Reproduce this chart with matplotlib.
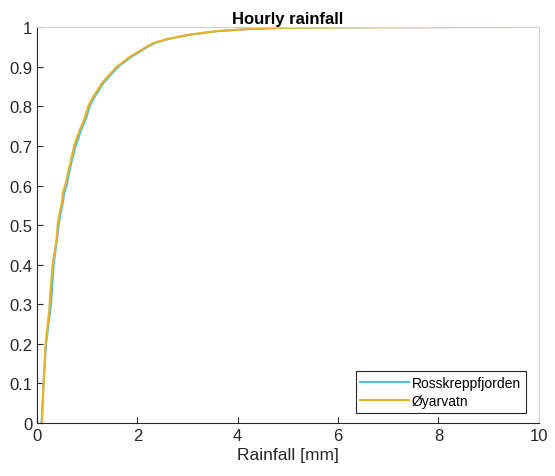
import matplotlib
matplotlib.use('Agg')
import matplotlib.pyplot as plt

plt.rcParams['font.family'] = ['Liberation Sans', 'DejaVu Sans']

ross_x = [0.09, 0.13, 0.18, 0.25, 0.28, 0.33, 0.40, 0.43, 0.47, 0.52, 0.54, 0.59, 0.67, 0.77,
          0.88, 0.98, 1.05, 1.13, 1.33, 1.62, 1.88, 2.20, 2.35, 2.62, 3.00, 3.60, 4.20,
          4.80, 5.50, 6.60]
ross_y = [0.0, 0.10, 0.20, 0.27, 0.30, 0.40, 0.465, 0.50, 0.53, 0.56, 0.58, 0.60, 0.65, 0.70,
          0.74, 0.77, 0.80, 0.82, 0.86, 0.90, 0.925, 0.95, 0.96, 0.97, 0.98, 0.99, 0.995,
          0.998, 0.999, 1.0]

oya_x = [0.10, 0.13, 0.17, 0.24, 0.26, 0.31, 0.39, 0.41, 0.45, 0.50, 0.51, 0.56, 0.65, 0.74,
         0.85, 0.95, 1.02, 1.10, 1.30, 1.59, 1.85, 2.18, 2.32, 2.60, 2.98, 3.58, 4.20,
         4.80, 5.50, 6.60, 7.50, 9.40]
oya_y = [0.0, 0.10, 0.20, 0.28, 0.32, 0.40, 0.465, 0.50, 0.53, 0.56, 0.58, 0.60, 0.65, 0.70,
         0.74, 0.77, 0.80, 0.82, 0.86, 0.90, 0.925, 0.95, 0.96, 0.97, 0.98, 0.99, 0.995,
         0.998, 0.999, 0.9995, 0.9998, 1.0]

xticks = [0, 2, 4, 6, 8, 10]
yticks = [0, 0.1, 0.2, 0.3, 0.4, 0.5, 0.6, 0.7, 0.8, 0.9, 1]
ytick_labels = ['0', '0.1', '0.2', '0.3', '0.4', '0.5', '0.6', '0.7', '0.8', '0.9', '1']

fig = plt.figure(figsize=(5.55, 4.77), dpi=100)
ax = fig.add_axes([0.0667, 0.111, 0.904, 0.830])

ax.plot(ross_x, ross_y, color='#4DBEEE', lw=1.5, label='Rosskreppfjorden')
ax.plot(oya_x, oya_y, color='#EDB120', lw=1.5, label='Øyarvatn')

ax.set_xlim(0, 10)
ax.set_ylim(0, 1)
ax.set_xticks(xticks)
ax.set_yticks(yticks)
ax.set_yticklabels(ytick_labels)
ax.tick_params(direction='in', colors='#262626', labelsize=12, length=4)
for s in ['left', 'bottom']:
    ax.spines[s].set_color('#262626')
for s in ['top', 'right']:
    ax.spines[s].set_color('#d0d0d0')

ax.set_xlabel('Rainfall [mm]', fontsize=12.5, color='#262626', labelpad=3)
ax.set_title('Hourly rainfall', fontsize=12, fontweight='bold', pad=3)

leg = ax.legend(loc='lower right', fontsize=10, fancybox=False, framealpha=1,
                edgecolor='#262626', borderpad=0.35, handlelength=3.5,
                handletextpad=0.2, labelspacing=0.3, bbox_to_anchor=(0.988, 0.008))
leg.get_frame().set_linewidth(0.8)

fig.savefig('out.png', dpi=100)
